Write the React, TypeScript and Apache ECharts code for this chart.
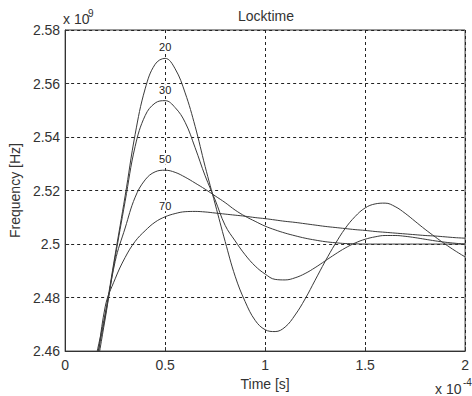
import React, { useEffect, useRef } from "react";
import * as echarts from "echarts";

// time in units of 1e-4 s
const timeValues = [
  0.10, 0.15, 0.20, 0.25, 0.30, 0.35, 0.40, 0.45, 0.50, 0.55,
  0.60, 0.65, 0.70, 0.75, 0.80, 0.85, 0.90, 0.95, 1.00, 1.05,
  1.10, 1.15, 1.20, 1.25, 1.30, 1.35, 1.40, 1.45, 1.50, 1.55,
  1.60, 1.65, 1.70, 1.75, 1.80, 1.85, 1.90, 1.95, 2.00,
];

// frequency in units of 1e9 Hz
const curve20 = [
  2.434, 2.456, 2.474, 2.496, 2.518, 2.541, 2.558, 2.5672, 2.5694, 2.5655,
  2.5565, 2.544, 2.529, 2.515, 2.501, 2.488, 2.4785, 2.4715, 2.468, 2.4673,
  2.469, 2.4735, 2.4795, 2.4865, 2.4935, 2.5, 2.5058, 2.5103, 2.5135, 2.515,
  2.5153, 2.514, 2.5115, 2.5085, 2.5055, 2.5027, 2.5, 2.4975, 2.4952,
];
const curve30 = [
  2.432, 2.454, 2.473, 2.495, 2.516, 2.5365, 2.548, 2.5527, 2.5536, 2.551,
  2.5455, 2.536, 2.5255, 2.5165, 2.507, 2.5012, 2.496, 2.4918, 2.4888, 2.4868,
  2.4866, 2.4874, 2.489, 2.4912, 2.4937, 2.4962, 2.4985, 2.5004, 2.5018, 2.5027,
  2.5032, 2.5032, 2.5029, 2.5024, 2.5018, 2.5012, 2.5007, 2.5003, 2.5,
];
const curve50 = [
  2.428, 2.45, 2.472, 2.4935, 2.506, 2.5175, 2.524, 2.527, 2.5276, 2.5268,
  2.525, 2.5228, 2.5205, 2.518, 2.5155, 2.5127, 2.5104, 2.5085, 2.5067, 2.5053,
  2.5041, 2.5031, 2.5022, 2.5015, 2.5009, 2.5005, 2.5002, 2.5001, 2.5, 2.5,
  2.5, 2.5, 2.5, 2.5, 2.5, 2.5, 2.5, 2.5, 2.5,
];
const curve70 = [
  2.426, 2.449, 2.4765, 2.487, 2.495, 2.501, 2.505, 2.5082, 2.5102, 2.5114,
  2.5121, 2.5122, 2.512, 2.5116, 2.5112, 2.5108, 2.5104, 2.5099, 2.5095, 2.509,
  2.5085, 2.5081, 2.5076, 2.5071, 2.5066, 2.5062, 2.5058, 2.5054, 2.5051, 2.5047,
  2.5044, 2.5041, 2.5038, 2.5035, 2.5032, 2.503, 2.5027, 2.5024, 2.5022,
];

const curveNames = ["20", "30", "50", "70"];
const curveValues = [curve20, curve30, curve50, curve70];
const labelTime = 0.5;

const FONT = "Liberation Sans, Arial, sans-serif";

export default function App() {
  const ref = useRef<HTMLDivElement>(null);

  useEffect(() => {
    if (!ref.current) return;
    const chart = echarts.init(ref.current, undefined, { renderer: "svg" });
    const labelIdx = timeValues.indexOf(labelTime);

    const series = curveValues.map((vals, i) => ({
      name: curveNames[i],
      type: "line",
      data: timeValues.map((t, j) => [t, vals[j]]),
      smooth: 0.4,
      showSymbol: false,
      clip: true,
      lineStyle: { color: "#3a3a3a", width: 1 },
      markPoint: {
        symbol: "circle",
        symbolSize: 1,
        itemStyle: { color: "rgba(0,0,0,0)" },
        data: [
          {
            coord: [labelTime, vals[labelIdx]],
            label: {
              show: true,
              formatter: curveNames[i],
              position: "inside",
              offset: [0, -11],
              color: "#222",
              fontSize: 11,
              fontFamily: FONT,
              backgroundColor: "#fff",
              padding: [0, 1],
            },
          },
        ],
      },
    }));

    chart.setOption({
      animation: false,
      backgroundColor: "#fff",
      grid: {
        left: 63,
        right: 2,
        top: 30,
        bottom: 43,
        show: true,
        borderColor: "#333",
        borderWidth: 1,
        backgroundColor: "transparent",
      },
      xAxis: {
        type: "value",
        min: 0,
        max: 2,
        interval: 0.5,
        name: "Time [s]",
        nameLocation: "middle",
        nameGap: 23,
        nameTextStyle: { color: "#333", fontSize: 14, fontFamily: FONT },
        axisLine: { show: true, lineStyle: { color: "#333", width: 1 } },
        axisTick: { show: true, inside: true, length: 4, lineStyle: { color: "#333" } },
        axisLabel: {
          color: "#333",
          fontSize: 14,
          fontFamily: FONT,
          margin: 7,
          formatter: (v: number) => String(parseFloat(v.toFixed(2))),
        },
        splitLine: { show: true, lineStyle: { color: "#222", type: [3, 3], width: 1 } },
      },
      yAxis: {
        type: "value",
        min: 2.46,
        max: 2.58,
        interval: 0.02,
        name: "Frequency [Hz]",
        nameLocation: "middle",
        nameGap: 38,
        nameTextStyle: { color: "#333", fontSize: 14, fontFamily: FONT },
        axisLine: { show: true, lineStyle: { color: "#333", width: 1 } },
        axisTick: { show: true, inside: true, length: 4, lineStyle: { color: "#333" } },
        axisLabel: {
          color: "#333",
          fontSize: 14,
          fontFamily: FONT,
          margin: 5,
          formatter: (v: number) => String(parseFloat(v.toFixed(2))),
        },
        splitLine: { show: true, lineStyle: { color: "#222", type: [3, 3], width: 1 } },
      },
      graphic: [
        {
          type: "text",
          x: 266,
          y: 16,
          style: {
            text: "Locktime",
            textAlign: "center",
            textVerticalAlign: "middle",
            align: "center",
            verticalAlign: "middle",
            font: `14px ${FONT}`,
            fill: "#333",
          },
        },
        {
          type: "text",
          x: 63,
          y: 19,
          style: {
            text: "x 10",
            textAlign: "left",
            textVerticalAlign: "middle",
            align: "left",
            verticalAlign: "middle",
            font: `14px ${FONT}`,
            fill: "#333",
          },
        },
        {
          type: "text",
          x: 88,
          y: 13,
          style: {
            text: "9",
            textAlign: "left",
            textVerticalAlign: "middle",
            align: "left",
            verticalAlign: "middle",
            font: `10px ${FONT}`,
            fill: "#333",
          },
        },
        {
          type: "text",
          x: 435,
          y: 389,
          style: {
            text: "x 10",
            textAlign: "left",
            textVerticalAlign: "middle",
            align: "left",
            verticalAlign: "middle",
            font: `14px ${FONT}`,
            fill: "#333",
          },
        },
        {
          type: "text",
          x: 463,
          y: 382,
          style: {
            text: "-4",
            textAlign: "left",
            textVerticalAlign: "middle",
            align: "left",
            verticalAlign: "middle",
            font: `10px ${FONT}`,
            fill: "#333",
          },
        },
      ],
      series,
    });

    return () => chart.dispose();
  }, []);

  return (
    <div
      ref={ref}
      style={{ position: "absolute", left: 0, top: 0, width: 472, height: 396 }}
    />
  );
}
